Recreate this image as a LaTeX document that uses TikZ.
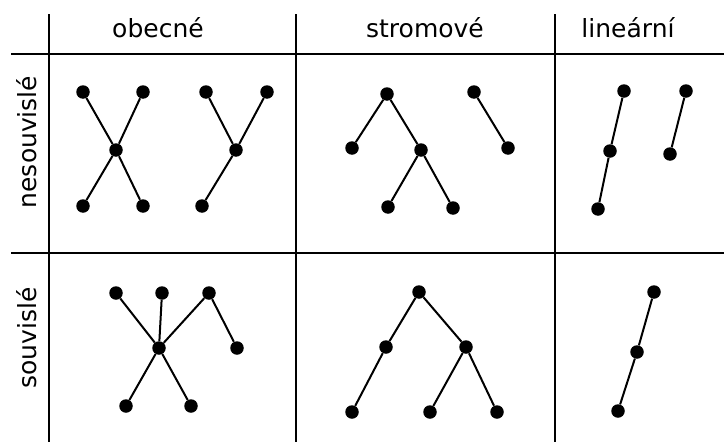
\documentclass[tikz,border=0pt]{standalone}
\usepackage{fontspec}
\setmainfont{DejaVu Sans}
\begin{document}
\begin{tikzpicture}[x=1pt,y=-1pt,
  dot/.style={circle,fill=black,inner sep=0pt,minimum size=13.5pt},
  edge/.style={line width=2pt},
  grid/.style={line width=2pt},
  lbl/.style={font=\fontsize{25}{30}\selectfont,anchor=base,inner sep=0pt}]
\useasboundingbox (0,0) rectangle (724,442);
% grid
\draw[grid] (11,54) -- (724,54);
\draw[grid] (11,253) -- (724,253);
\draw[grid] (49,14) -- (49,442);
\draw[grid] (296,14) -- (296,442);
\draw[grid] (555,14) -- (555,442);
% headers
\node[lbl] (h1) at (158,37) {obecné};
\node[lbl] (h2) at (425,37) {stromové};
\node[lbl] (h3) at (628,37) {lineární};
\node[lbl,rotate=90] (r1) at (37,142) {nesouvislé};
\node[lbl,rotate=90] (r2) at (37,338) {souvislé};
% obecne, nesouvisle
\node[dot] (a1) at (83,92) {};
\node[dot] (a2) at (143,92) {};
\node[dot] (a3) at (116,150) {};
\node[dot] (a4) at (83,206) {};
\node[dot] (a5) at (143,206) {};
\draw[edge] (a1) -- (a3) -- (a5);
\draw[edge] (a2) -- (a3) -- (a4);
\node[dot] (b1) at (206,92) {};
\node[dot] (b2) at (267,92) {};
\node[dot] (b3) at (236,150) {};
\node[dot] (b4) at (202,206) {};
\draw[edge] (b1) -- (b3);
\draw[edge] (b2) -- (b3) -- (b4);
% stromove, nesouvisle
\node[dot] (c1) at (352,148) {};
\node[dot] (c2) at (387,94) {};
\node[dot] (c3) at (421,150) {};
\node[dot] (c4) at (388,207) {};
\node[dot] (c5) at (453,208) {};
\node[dot] (c6) at (474,92) {};
\node[dot] (c7) at (508,148) {};
\draw[edge] (c1) -- (c2) -- (c3) -- (c4);
\draw[edge] (c3) -- (c5);
\draw[edge] (c6) -- (c7);
% linearni, nesouvisle
\node[dot] (d1) at (624,91) {};
\node[dot] (d2) at (610,151) {};
\node[dot] (d3) at (598,209) {};
\node[dot] (d4) at (686,91) {};
\node[dot] (d5) at (670,154) {};
\draw[edge] (d1) -- (d2) -- (d3);
\draw[edge] (d4) -- (d5);
% obecne, souvisle
\node[dot] (e1) at (116,293) {};
\node[dot] (e2) at (162,293) {};
\node[dot] (e3) at (209,293) {};
\node[dot] (e4) at (159,348) {};
\node[dot] (e5) at (237,348) {};
\node[dot] (e6) at (126,406) {};
\node[dot] (e7) at (191,406) {};
\draw[edge] (e1) -- (e4) -- (e7);
\draw[edge] (e2) -- (e4);
\draw[edge] (e3) -- (e4) -- (e6);
\draw[edge] (e3) -- (e5);
% stromove, souvisle
\node[dot] (f1) at (419,292) {};
\node[dot] (f2) at (386,347) {};
\node[dot] (f3) at (466,347) {};
\node[dot] (f4) at (352,412) {};
\node[dot] (f5) at (430,412) {};
\node[dot] (f6) at (497,412) {};
\draw[edge] (f1) -- (f2) -- (f4);
\draw[edge] (f1) -- (f3) -- (f5);
\draw[edge] (f3) -- (f6);
% linearni, souvisle
\node[dot] (g1) at (654,292) {};
\node[dot] (g2) at (637,352) {};
\node[dot] (g3) at (618,411) {};
\draw[edge] (g1) -- (g2) -- (g3);
\end{tikzpicture}
\end{document}
